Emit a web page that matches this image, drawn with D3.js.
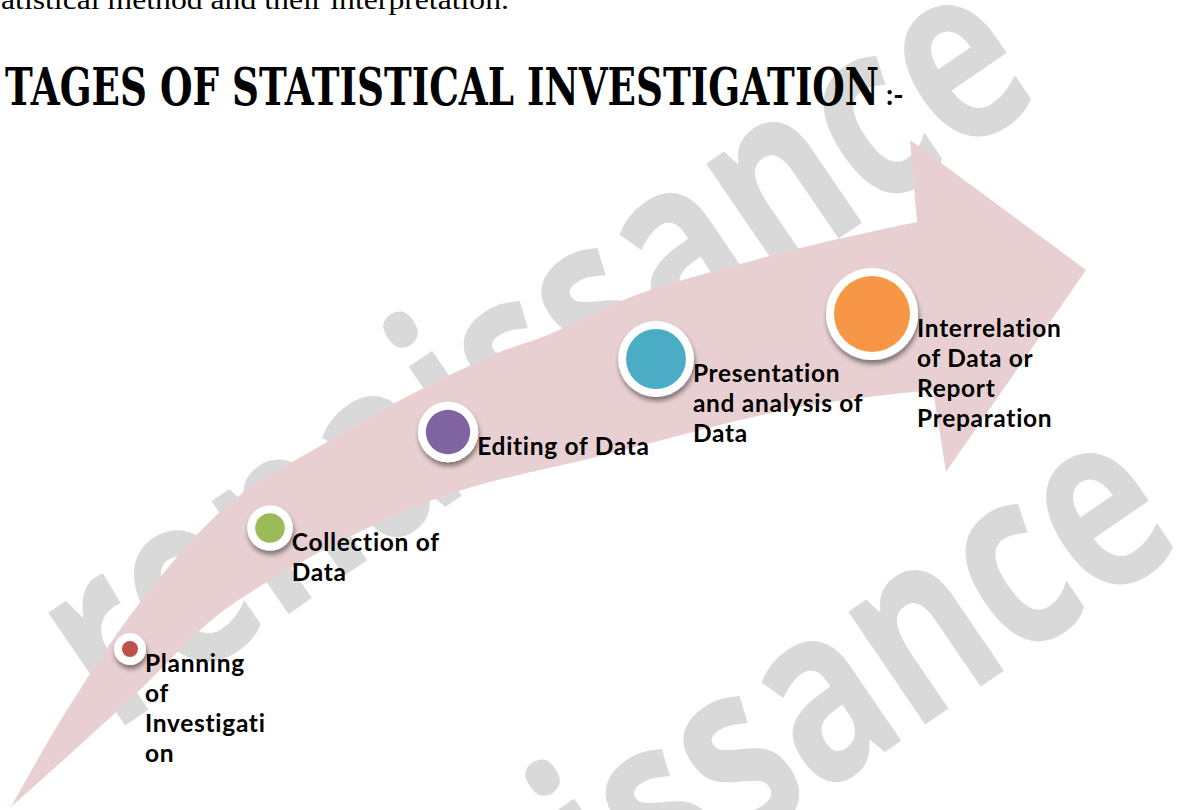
<!DOCTYPE html>
<html><head><meta charset="utf-8">
<script src="https://cdn.jsdelivr.net/npm/d3@7"></script>
<style>html,body{margin:0;padding:0;background:#fff;} svg{display:block}</style>
</head><body>
<script>
// ---------------- data ----------------
const introText = "atistical method and their  interpretation.";
const titleText = "TAGES OF STATISTICAL INVESTIGATION";
const titleSuffix = ":-";
const watermarkText = "renaissance";
const stageNames = ["Planning of Investigation", "Collection of Data", "Editing of Data",
  "Presentation and analysis of Data", "Interrelation of Data or Report Preparation"];
const stageLines = [
  ["Planning", "of", "Investigati", "on"],
  ["Collection of", "Data"],
  ["Editing of Data"],
  ["Presentation", "and analysis of", "Data"],
  ["Interrelation", "of Data or", "Report", "Preparation"]
];
const stageOrder = [1, 2, 3, 4, 5];
const stageColors = ["#c0504d", "#9bbb59", "#8064a2", "#4bacc6", "#f79646"];

// ---------------- layout ----------------
const W = 1178, H = 810;
const svg = d3.select("body").append("svg").attr("width", W).attr("height", H);
svg.append("rect").attr("width", W).attr("height", H).attr("fill", "#fff");

const defs = svg.append("defs");
const flt = defs.append("filter").attr("id", "sh")
  .attr("x", "-50%").attr("y", "-50%").attr("width", "200%").attr("height", "200%");
flt.append("feDropShadow").attr("dx", 1).attr("dy", 4).attr("stdDeviation", 2.5)
  .attr("flood-color", "#000").attr("flood-opacity", 0.45);

// watermark
const wmAngle = -34.3;
const wmCenters = [[542, 360], [684, 808]];
wmCenters.forEach(c => {
  svg.append("g").attr("transform", `translate(${c[0]},${c[1]}) rotate(${wmAngle})`)
    .append("text")
    .attr("x", 0).attr("y", 67)
    .attr("text-anchor", "middle")
    .attr("font-family", "'Open Sans', 'DejaVu Sans', sans-serif")
    .attr("font-weight", 700)
    .attr("font-size", 250)
    .attr("textLength", 1130)
    .attr("lengthAdjust", "spacingAndGlyphs")
    .attr("fill", "#d9d9d9")
    .text(watermarkText);
});

// intro line (cut at top)
svg.append("text").attr("x", 1).attr("y", 9)
  .attr("font-family", "'Liberation Serif', 'DejaVu Serif', serif")
  .attr("font-size", 27)
  .attr("textLength", 508).attr("lengthAdjust", "spacingAndGlyphs")
  .attr("fill", "#000").text(introText);

// title
svg.append("text").attr("x", 5).attr("y", 105)
  .attr("font-family", "'DejaVu Serif', 'Liberation Serif', serif")
  .attr("font-weight", 700)
  .attr("font-size", 53)
  .attr("textLength", 874).attr("lengthAdjust", "spacingAndGlyphs")
  .attr("fill", "#000").text(titleText);
svg.append("text").attr("x", 886).attr("y", 105)
  .attr("font-family", "Lato, 'Open Sans', sans-serif")
  .attr("font-weight", 700)
  .attr("font-size", 28)
  .attr("fill", "#000").text(titleSuffix);

// arrow geometry
const upperEdge = [[11, 807], [67, 710], [142, 600], [230, 503], [327, 442], [410, 395], [500, 352],
  [545, 336], [636, 295], [729, 267], [821, 243], [917, 222]];
const lowerEdge = [[11, 807], [80, 745], [143, 687], [214, 618], [298, 564], [383, 521], [459, 491],
  [600, 456], [800, 407], [933, 390]];
const head = [[910, 140], [1086, 270], [946, 472]];
const edgeLine = d3.line().curve(d3.curveCatmullRom.alpha(0.5));
const upStr = edgeLine(upperEdge);
const lowStr = edgeLine(lowerEdge.slice().reverse()).replace(/^M/, "L");
const headStr = head.map(p => "L" + p[0] + "," + p[1]).join("");
svg.append("path")
  .attr("d", upStr + headStr + lowStr + "Z")
  .attr("fill", "#e8d0d2");

// stage scales
const xScale = d3.scaleLinear().domain(stageOrder).range([130, 270, 448, 656, 872]);
const yScale = d3.scaleLinear().domain(stageOrder).range([649, 528, 432, 359, 314]);
const rScale = d3.scalePow().exponent(1.15).domain([1, 5]).range([16, 46]);
const ringW = 8;
const lineH = 30;

const stages = stageOrder.map((s, i) => ({
  step: s, name: stageNames[i], lines: stageLines[i], color: stageColors[i]
}));

const g = svg.append("g");
const node = g.selectAll("g.stage").data(stages).join("g").attr("class", "stage")
  .attr("transform", d => `translate(${xScale(d.step)},${yScale(d.step)})`);
node.append("circle").attr("r", d => rScale(d.step)).attr("fill", "#fff").attr("filter", "url(#sh)");
node.append("circle").attr("r", d => rScale(d.step) - ringW).attr("fill", d => d.color);

const lbl = node.append("text")
  .attr("font-family", "Lato, 'Open Sans', sans-serif")
  .attr("font-weight", 700)
  .attr("font-size", 24.5)
  .attr("letter-spacing", 0.7)
  .style("font-variant-ligatures", "none")
  .attr("fill", "#000");
lbl.selectAll("tspan").data(d => d.lines.map((t, j) => ({ t, j, r: rScale(d.step) })))
  .join("tspan")
  .attr("x", d => d.r - 1)
  .attr("y", d => 23 + d.j * lineH)
  .text(d => d.t);
</script>
</body></html>
